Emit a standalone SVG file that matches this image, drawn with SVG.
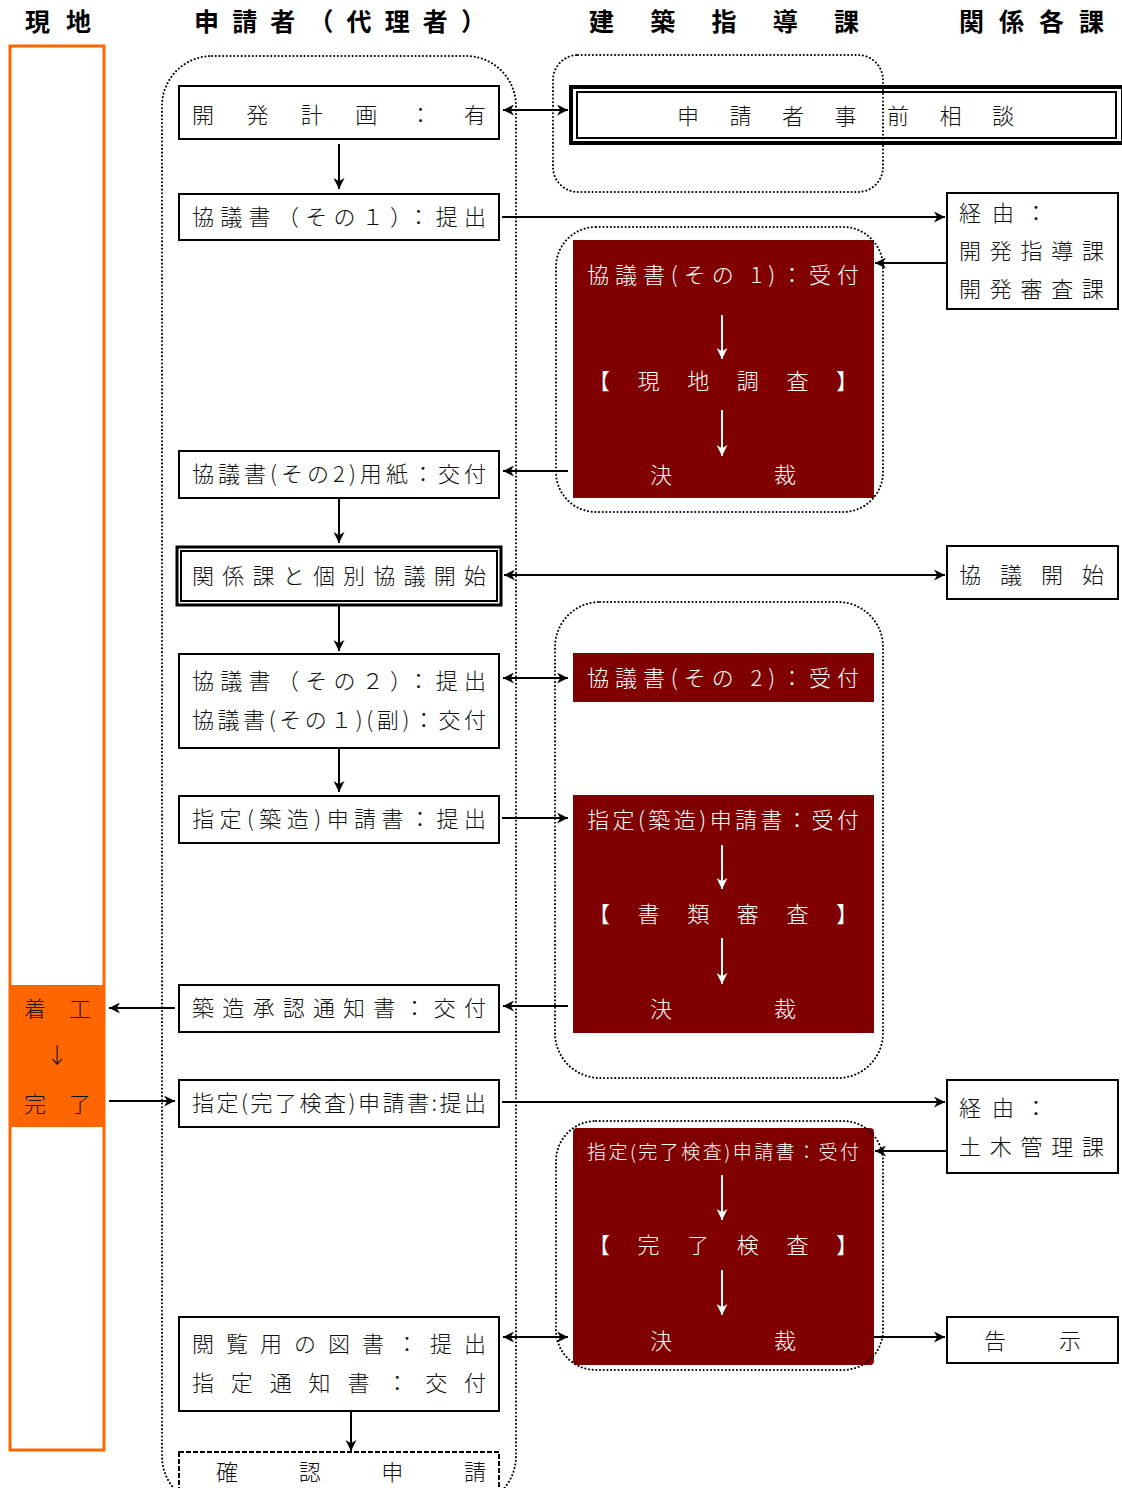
<svg xmlns="http://www.w3.org/2000/svg" width="1122" height="1488" viewBox="0 0 1122 1488">
<defs>
<marker id="arr" viewBox="0 0 10 10" refX="10" refY="5" markerWidth="11" markerHeight="11" orient="auto-start-reverse" markerUnits="userSpaceOnUse">
<path d="M0,0 L10,5 L0,10 L3,5 Z" fill="#000"/>
</marker>
<marker id="warr" viewBox="0 0 10 10" refX="10" refY="5" markerWidth="11" markerHeight="11" orient="auto-start-reverse" markerUnits="userSpaceOnUse">
<path d="M0,0 L10,5 L0,10 L3,5 Z" fill="#fff"/>
</marker>
<style>
text{font-family:"Noto Sans CJK JP","Noto Sans CJK SC",sans-serif;font-size:22px;font-weight:300;fill:#111;}
.hd{font-size:25px;font-weight:bold;fill:#000;}
.w{fill:#fff;}
.box{fill:#fff;stroke:#000;stroke-width:2;}
.red{fill:#800000;stroke:none;}
.dot{fill:none;stroke:#000;stroke-width:2;stroke-dasharray:0.1 3.6;stroke-linecap:round;}
.ln{fill:none;stroke:#000;stroke-width:2;}
.wl{fill:none;stroke:#fff;stroke-width:2;}
</style>
</defs>
<rect x="0" y="0" width="1122" height="1488" fill="#fff"/>

<g id="headers">
<text class="hd" x="25" y="31" textLength="66" lengthAdjust="spacing">現地</text>
<text class="hd" x="194" y="31" textLength="292" lengthAdjust="spacing">申請者（代理者）</text>
<text class="hd" x="589" y="31" textLength="270" lengthAdjust="spacing">建築指導課</text>
<text class="hd" x="959" y="31" textLength="145" lengthAdjust="spacing">関係各課</text>
</g>

<g id="site-column">
<rect x="10" y="46" width="94" height="1404" fill="none" stroke="#ff6600" stroke-width="3"/>
<rect x="10" y="985" width="94" height="142" fill="#ff6600"/>
<text x="24" y="1017" textLength="67" lengthAdjust="spacing">着工</text>
<text x="57" y="1063" text-anchor="middle">↓</text>
<text x="24" y="1112" textLength="67" lengthAdjust="spacing">完了</text>
</g>

<g id="red-boxes">
<rect class="red" x="573" y="240" width="301" height="258"/>
<rect class="red" x="573" y="653" width="301" height="49"/>
<rect class="red" x="573" y="795" width="301" height="238"/>
<rect class="red" x="573" y="1128" width="301" height="237" rx="4"/>
</g>

<g id="n-jizen">
<rect x="571" y="87" width="552" height="56" fill="none" stroke="#000" stroke-width="4"/>
<rect x="577" y="92" width="539" height="46" fill="none" stroke="#000" stroke-width="2"/>
<text x="677" y="124" textLength="337" lengthAdjust="spacing">申請者事前相談</text>
</g>

<g id="containers">
<rect class="dot" x="162" y="56" width="354" height="1450" rx="50"/>
<rect class="dot" x="553" y="55" width="330" height="137" rx="25"/>
<rect class="dot" x="556" y="227" width="327" height="285" rx="40"/>
<rect class="dot" x="555" y="602" width="328" height="476" rx="45"/>
<rect class="dot" x="556" y="1121" width="327" height="249" rx="40"/>
</g>

<g id="n1"><rect class="box" x="179" y="86" width="320" height="53"/>
<text x="192" y="123" textLength="294" lengthAdjust="spacing">開発計画：有</text></g>

<g id="n2"><rect class="box" x="179" y="194" width="320" height="46"/>
<text x="192" y="225" textLength="294" lengthAdjust="spacing">協議書（その１）：提出</text></g>

<g id="n3"><rect class="box" x="179" y="451" width="320" height="47"/>
<text x="192" y="482" textLength="294" lengthAdjust="spacing">協議書(その2)用紙：交付</text></g>

<g id="n4"><rect x="177" y="547" width="324" height="58" fill="#fff" stroke="#000" stroke-width="3"/>
<rect x="181" y="551" width="316" height="50" fill="none" stroke="#000" stroke-width="2"/>
<text x="192" y="584" textLength="294" lengthAdjust="spacing">関係課と個別協議開始</text></g>

<g id="n5"><rect class="box" x="179" y="654" width="320" height="94"/>
<text x="192" y="689" textLength="294" lengthAdjust="spacing">協議書（その２）：提出</text>
<text x="192" y="728" textLength="294" lengthAdjust="spacing">協議書(その１)(副)：交付</text></g>

<g id="n6"><rect class="box" x="179" y="796" width="320" height="47"/>
<text x="192" y="827" textLength="294" lengthAdjust="spacing">指定(築造)申請書：提出</text></g>

<g id="n7"><rect class="box" x="179" y="985" width="320" height="47"/>
<text x="192" y="1016" textLength="294" lengthAdjust="spacing">築造承認通知書：交付</text></g>

<g id="n8"><rect class="box" x="179" y="1080" width="320" height="47"/>
<text x="192" y="1111" textLength="294" lengthAdjust="spacing">指定(完了検査)申請書:提出</text></g>

<g id="n9"><rect class="box" x="179" y="1317" width="320" height="94"/>
<text x="192" y="1352" textLength="294" lengthAdjust="spacing">閲覧用の図書：提出</text>
<text x="192" y="1391" textLength="294" lengthAdjust="spacing">指定通知書：交付</text></g>

<g id="n10"><rect x="179" y="1452" width="320" height="50" fill="#fff" stroke="#000" stroke-width="2" stroke-dasharray="5 2"/>
<text x="216" y="1480" textLength="270" lengthAdjust="spacing">確認申請</text></g>

<g id="nB">
<text class="w" x="587" y="283" textLength="272" lengthAdjust="spacing">協議書(その 1)：受付</text>
<line class="wl" x1="722" y1="315" x2="722" y2="359" marker-end="url(#warr)"/>
<text class="w" x="588" y="389" textLength="270" lengthAdjust="spacing">【現地調査】</text>
<line class="wl" x1="722" y1="410" x2="722" y2="456" marker-end="url(#warr)"/>
<text class="w" x="650" y="483" textLength="146" lengthAdjust="spacing">決裁</text>
</g>

<g id="nC1">
<text class="w" x="587" y="686" textLength="272" lengthAdjust="spacing">協議書(その 2)：受付</text>
</g>

<g id="nC2">
<text class="w" x="587" y="828" textLength="272" lengthAdjust="spacing">指定(築造)申請書：受付</text>
<line class="wl" x1="722" y1="845" x2="722" y2="889" marker-end="url(#warr)"/>
<text class="w" x="588" y="922" textLength="270" lengthAdjust="spacing">【書類審査】</text>
<line class="wl" x1="722" y1="938" x2="722" y2="984" marker-end="url(#warr)"/>
<text class="w" x="650" y="1017" textLength="146" lengthAdjust="spacing">決裁</text>
</g>

<g id="nD">
<text class="w" x="587" y="1159" style="font-size:19px" textLength="272" lengthAdjust="spacing">指定(完了検査)申請書：受付</text>
<line class="wl" x1="722" y1="1175" x2="722" y2="1220" marker-end="url(#warr)"/>
<text class="w" x="588" y="1253" textLength="270" lengthAdjust="spacing">【完了検査】</text>
<line class="wl" x1="722" y1="1270" x2="722" y2="1315" marker-end="url(#warr)"/>
<text class="w" x="650" y="1349" textLength="146" lengthAdjust="spacing">決裁</text>
</g>

<g id="r1"><rect class="box" x="947" y="193" width="171" height="116"/>
<text x="959" y="221" textLength="88" lengthAdjust="spacing">経由：</text>
<text x="959" y="259" textLength="145" lengthAdjust="spacing">開発指導課</text>
<text x="959" y="297" textLength="145" lengthAdjust="spacing">開発審査課</text></g>

<g id="r2"><rect class="box" x="947" y="546" width="171" height="53"/>
<text x="959" y="583" textLength="145" lengthAdjust="spacing">協議開始</text></g>

<g id="r3"><rect class="box" x="947" y="1080" width="171" height="93"/>
<text x="959" y="1116" textLength="88" lengthAdjust="spacing">経由：</text>
<text x="959" y="1155" textLength="145" lengthAdjust="spacing">土木管理課</text></g>

<g id="r4"><rect class="box" x="947" y="1317" width="171" height="46"/>
<text x="984" y="1349" textLength="97" lengthAdjust="spacing">告示</text></g>

<g id="connectors">
<line class="ln" x1="503" y1="110" x2="568" y2="110" marker-start="url(#arr)" marker-end="url(#arr)"/>
<line class="ln" x1="339" y1="144" x2="339" y2="189" marker-end="url(#arr)"/>
<line class="ln" x1="502" y1="217" x2="945" y2="217" marker-end="url(#arr)"/>
<line class="ln" x1="947" y1="263" x2="875" y2="263" marker-end="url(#arr)"/>
<line class="ln" x1="568" y1="471" x2="503" y2="471" marker-end="url(#arr)"/>
<line class="ln" x1="339" y1="498" x2="339" y2="543" marker-end="url(#arr)"/>
<line class="ln" x1="504" y1="575" x2="945" y2="575" marker-start="url(#arr)" marker-end="url(#arr)"/>
<line class="ln" x1="339" y1="606" x2="339" y2="651" marker-end="url(#arr)"/>
<line class="ln" x1="503" y1="678" x2="568" y2="678" marker-start="url(#arr)" marker-end="url(#arr)"/>
<line class="ln" x1="339" y1="748" x2="339" y2="792" marker-end="url(#arr)"/>
<line class="ln" x1="502" y1="818" x2="568" y2="818" marker-end="url(#arr)"/>
<line class="ln" x1="568" y1="1006" x2="503" y2="1006" marker-end="url(#arr)"/>
<line class="ln" x1="175" y1="1008" x2="109" y2="1008" marker-end="url(#arr)"/>
<line class="ln" x1="109" y1="1101" x2="175" y2="1101" marker-end="url(#arr)"/>
<line class="ln" x1="502" y1="1102" x2="945" y2="1102" marker-end="url(#arr)"/>
<line class="ln" x1="947" y1="1151" x2="875" y2="1151" marker-end="url(#arr)"/>
<line class="ln" x1="503" y1="1337" x2="568" y2="1337" marker-start="url(#arr)" marker-end="url(#arr)"/>
<line class="ln" x1="874" y1="1337" x2="945" y2="1337" marker-end="url(#arr)"/>
<line class="ln" x1="351" y1="1411" x2="351" y2="1451" marker-end="url(#arr)"/>
</g>
</svg>
